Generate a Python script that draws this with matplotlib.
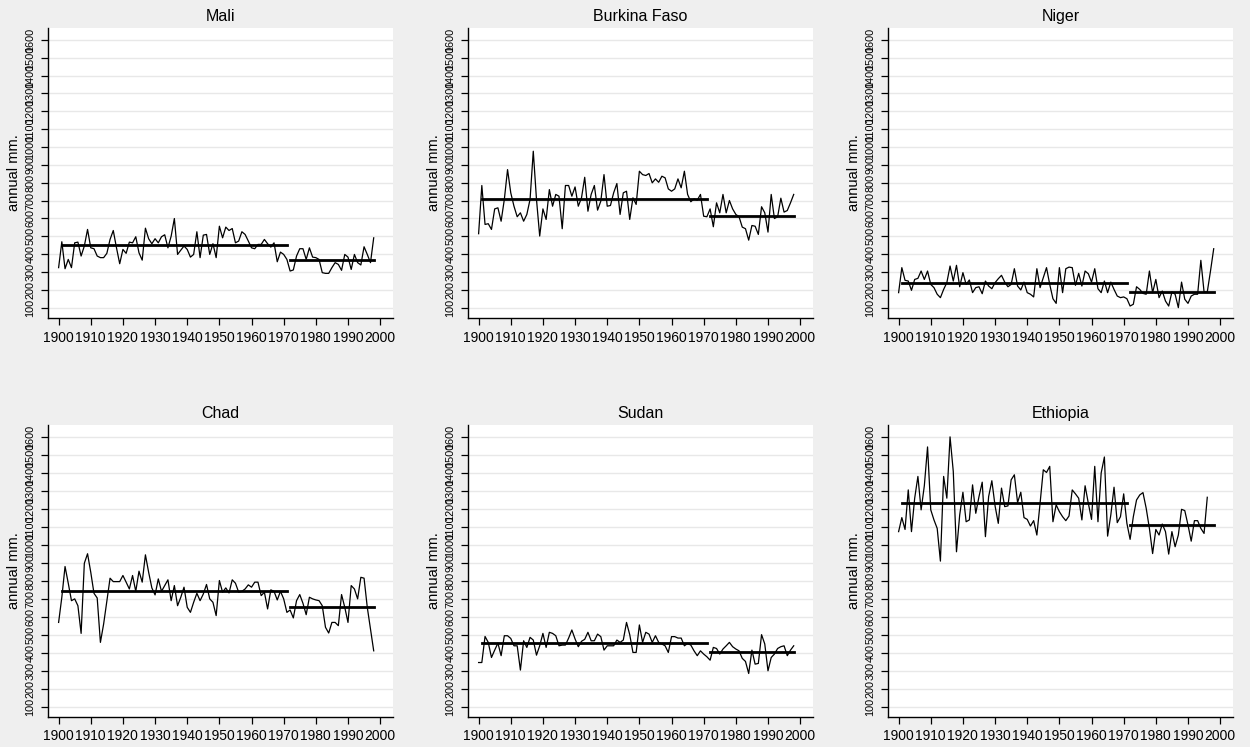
import numpy as np
import matplotlib
matplotlib.use("Agg")
import matplotlib.pyplot as plt

plt.rcParams['font.family'] = ['Liberation Sans', 'DejaVu Sans']

# annual rainfall (mm), 1900 onwards
mali = [324, 469, 318, 370, 324, 463, 467, 389, 445, 538,
        435, 430, 389, 380, 380, 404, 482, 532, 435, 346,
        426, 404, 467, 463, 497, 407, 366, 545, 486, 458,
        486, 463, 497, 508, 435, 500, 599, 398, 422, 445,
        426, 383, 398, 525, 380, 506, 510, 398, 458, 380,
        556, 491, 551, 532, 543, 463, 473, 525, 510, 473,
        435, 430, 454, 454, 482, 458, 439, 463, 357, 411,
        398, 370, 305, 311, 389, 430, 430, 370, 435, 383,
        380, 370, 296, 292, 292, 324, 352, 342, 309, 398,
        383, 314, 398, 352, 339, 441, 398, 352, 491]
burkina = [514, 784, 566, 570, 538, 653, 659, 584, 706, 873,
           743, 668, 609, 631, 584, 622, 706, 976, 706, 501,
           653, 594, 761, 668, 734, 724, 542, 784, 784, 724,
           776, 668, 715, 830, 640, 734, 784, 646, 696, 845,
           668, 672, 743, 795, 622, 743, 752, 594, 715, 678,
           864, 845, 840, 851, 799, 821, 802, 836, 827, 765,
           752, 765, 821, 771, 864, 734, 693, 709, 702, 734,
           612, 609, 653, 553, 687, 631, 734, 631, 700, 653,
           622, 609, 551, 542, 478, 560, 556, 510, 665, 631,
           523, 734, 599, 609, 713, 635, 644, 687, 734]
niger = [184, 324, 253, 249, 197, 258, 264, 305, 258, 305,
         230, 212, 175, 156, 202, 240, 333, 249, 337, 217,
         296, 230, 255, 184, 212, 217, 178, 249, 221, 206,
         240, 262, 281, 243, 217, 230, 318, 221, 199, 243,
         184, 175, 160, 318, 212, 268, 324, 230, 150, 124,
         324, 184, 318, 327, 324, 225, 292, 221, 305, 290,
         243, 318, 206, 184, 249, 184, 243, 202, 165, 156,
         160, 150, 109, 119, 217, 202, 180, 175, 305, 184,
         258, 156, 193, 137, 109, 188, 175, 100, 243, 147,
         124, 165, 175, 175, 365, 188, 188, 305, 430]
chad = [568, 708, 879, 786, 689, 699, 661, 507, 897, 950,
        847, 730, 704, 457, 559, 686, 814, 795, 795, 795,
        829, 792, 754, 829, 741, 853, 792, 944, 847, 760,
        721, 810, 741, 773, 805, 689, 773, 661, 708, 764,
        652, 624, 680, 730, 689, 726, 779, 699, 680, 606,
        801, 736, 760, 732, 805, 786, 736, 741, 754, 777,
        764, 792, 792, 717, 736, 643, 749, 741, 693, 741,
        699, 624, 637, 593, 689, 723, 674, 611, 708, 699,
        693, 689, 661, 541, 509, 568, 568, 550, 723, 652,
        568, 773, 754, 699, 819, 814, 652, 531, 410]
sudan = [345, 345, 490, 457, 373, 414, 453, 383, 494, 494,
         479, 438, 438, 303, 466, 429, 485, 470, 386, 438,
         507, 429, 513, 507, 494, 438, 442, 442, 481, 526,
         476, 433, 463, 474, 513, 466, 466, 503, 489, 414,
         438, 438, 438, 470, 457, 470, 568, 500, 401, 401,
         554, 457, 513, 503, 457, 494, 457, 448, 438, 401,
         489, 489, 481, 481, 438, 451, 442, 410, 383, 410,
         392, 377, 358, 429, 423, 392, 420, 438, 457, 433,
         420, 410, 368, 351, 284, 414, 336, 340, 500, 448,
         299, 373, 392, 423, 433, 438, 383, 414, 438]
ethiopia = [1073, 1151, 1085, 1305, 1073, 1259, 1380, 1194, 1328, 1544,
            1194, 1138, 1091, 909, 1380, 1259, 1600, 1408, 961, 1166,
            1292, 1128, 1138, 1333, 1175, 1268, 1348, 1045, 1268, 1356,
            1216, 1119, 1315, 1212, 1216, 1361, 1389, 1235, 1292, 1151,
            1141, 1104, 1134, 1054, 1231, 1417, 1402, 1436, 1128, 1222,
            1184, 1156, 1134, 1160, 1305, 1283, 1259, 1138, 1328, 1231,
            1141, 1436, 1128, 1399, 1488, 1048, 1166, 1320, 1123, 1156,
            1283, 1119, 1030, 1156, 1249, 1277, 1290, 1203, 1091, 951,
            1085, 1054, 1115, 1073, 948, 1073, 989, 1054, 1197, 1190,
            1110, 1020, 1134, 1134, 1091, 1063, 1264]

countries = ['Mali', 'Burkina Faso', 'Niger', 'Chad', 'Sudan', 'Ethiopia']
series = [mali, burkina, niger, chad, sudan, ethiopia]
# period means: 1901-1971 and 1972-1998
mean_early = [450, 711, 236, 745, 453, 1231]
mean_late = [365, 616, 188, 652, 401, 1110]
early_span = [1901, 1971]
late_span = [1972, 1998]

yticks = list(range(100, 1700, 100))
xticks = list(range(1900, 2010, 10))

W, H = 1250, 747
fig = plt.figure(figsize=(12.5, 7.47), dpi=100)
fig.patch.set_facecolor('#efefef')

lefts = [48, 468, 888]
rows = [(28, 318), (425, 717)]

for i, (name, vals) in enumerate(zip(countries, series)):
    r, c = divmod(i, 3)
    top, bot = rows[r]
    ax = fig.add_axes([lefts[c] / W, 1 - bot / H, 345 / W, (bot - top) / H])
    ax.set_facecolor('white')
    years = np.arange(1900, 1900 + len(vals))

    for y in yticks:
        ax.axhline(y, color='#e8e8e8', lw=1.0, zorder=0)
    ax.plot(years, vals, color='black', lw=0.9, zorder=2)
    ax.plot(early_span, [mean_early[i]] * 2, color='black', lw=2.0, zorder=3)
    ax.plot(late_span, [mean_late[i]] * 2, color='black', lw=2.0, zorder=3)

    ax.set_xlim(1896.7, 2004)
    ax.set_ylim(42, 1666)
    ax.set_xticks(xticks)
    ax.set_yticks(yticks)
    ax.set_yticklabels([str(v) for v in yticks], rotation=90, va='center', fontsize=7.8)
    ax.tick_params(axis='x', labelsize=10, length=5, width=0.9, pad=4)
    ax.tick_params(axis='y', length=5, width=0.9, pad=4)
    for s in ['top', 'right']:
        ax.spines[s].set_visible(False)
    for s in ['left', 'bottom']:
        ax.spines[s].set_linewidth(1.0)
    ax.set_ylabel('annual mm.', fontsize=10.5)
    ax.yaxis.set_label_coords(-0.078, 0.5)
    ax.set_title(name, fontsize=11.5, pad=5)

fig.savefig('out.png', dpi=100, facecolor=fig.get_facecolor())
